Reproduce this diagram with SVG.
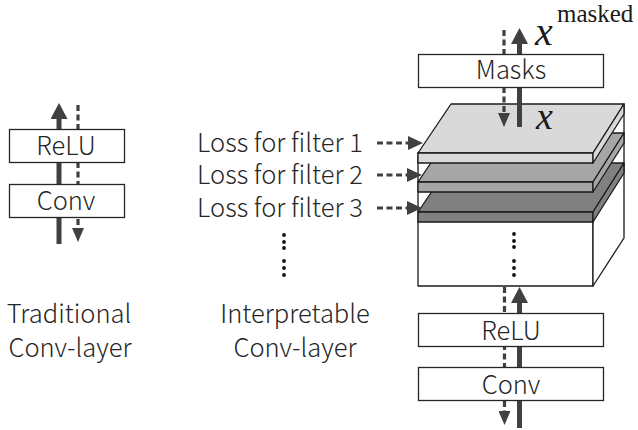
<svg xmlns="http://www.w3.org/2000/svg" width="638" height="430" viewBox="0 0 638 430">
<defs>
<style>
.lbl{font-family:"Noto Sans CJK SC","Liberation Sans",sans-serif;font-weight:300;fill:#262626;font-size:25.5px}
.box{fill:#fff;stroke:#262626;stroke-width:1.3}
.solid{stroke:#404040;stroke-width:5;fill:none}
.dash{stroke:#404040;stroke-width:3.2;fill:none;stroke-dasharray:6 3.5}
.edge{stroke:#1a1a1a;stroke-width:1.3;stroke-linejoin:round}
.math{font-family:"Liberation Serif",serif;fill:#1a1a1a}
.dot{fill:#111}
</style>
<marker id="ah" viewBox="0 0 16 17" refX="6" refY="8.5" markerWidth="16" markerHeight="17" markerUnits="userSpaceOnUse" orient="auto"><path d="M0,0 L16,8.5 L0,17 z" fill="#404040"/></marker>
<marker id="ahd" viewBox="0 0 14 12" refX="4" refY="6" markerWidth="14" markerHeight="12" markerUnits="userSpaceOnUse" orient="auto"><path d="M0,0 L14,6 L0,12 z" fill="#404040"/></marker>
<marker id="ahl" viewBox="0 0 15 14" refX="5" refY="7" markerWidth="15" markerHeight="14" markerUnits="userSpaceOnUse" orient="auto"><path d="M0,0 L15,7 L0,14 z" fill="#404040"/></marker>
</defs>

<g id="cube">
<polygon class="edge" fill="#fff" points="418,153 593,153 593,286 418,286"/>
<polygon class="edge" fill="#fff" points="593,153 624,104 624,238 593,286"/>
<g id="slab3">
<polygon class="edge" fill="#808080" points="418,212 451,163 624,163 593,212"/>
<polygon class="edge" fill="#808080" points="418,212 593,212 593,222 418,222"/>
<polygon class="edge" fill="#808080" points="593,212 624,163 624,173 593,222"/>
</g>
<g id="slab2">
<polygon class="edge" fill="#a6a6a6" points="418,182 451,133 624,133 593,182"/>
<polygon class="edge" fill="#a6a6a6" points="418,182 593,182 593,192 418,192"/>
<polygon class="edge" fill="#a6a6a6" points="593,182 624,133 624,143 593,192"/>
</g>
<g id="slab1">
<polygon class="edge" fill="#d9d9d9" points="418,153 451,104 624,104 593,153"/>
<polygon class="edge" fill="#d9d9d9" points="418,153 593,153 593,163 418,163"/>
<polygon class="edge" fill="#d9d9d9" points="593,153 624,104 624,114 593,163"/>
</g>
<g id="cube-dots">
<circle class="dot" cx="514" cy="234" r="1.9"/><circle class="dot" cx="514" cy="241" r="1.9"/><circle class="dot" cx="514" cy="247" r="1.9"/>
<circle class="dot" cx="514" cy="261" r="1.9"/><circle class="dot" cx="514" cy="268" r="1.9"/><circle class="dot" cx="514" cy="275" r="1.9"/>
</g>
</g>

<g id="connectors">
<path class="solid" d="M59,244 L59,113" marker-end="url(#ah)"/>
<path class="dash" d="M78,105 L78,232" marker-end="url(#ahd)"/>
<path class="solid" d="M519.5,127 L519.5,38" marker-end="url(#ah)"/>
<path class="dash" d="M504,30 L504,117" marker-end="url(#ahd)"/>
<path class="solid" d="M519.5,428 L519.5,297" marker-end="url(#ah)"/>
<path class="dash" d="M504.5,287 L504.5,415" marker-end="url(#ahd)"/>
<path class="dash" d="M377,143 L413,143" marker-end="url(#ahl)"/>
<path class="dash" d="M377,175 L412,175" marker-end="url(#ahl)"/>
<path class="dash" d="M377,208 L412,208" marker-end="url(#ahl)"/>
</g>

<g id="trad-relu"><rect class="box" x="9.5" y="129.5" width="115" height="33"/><text class="lbl" x="66" y="155" text-anchor="middle">ReLU</text></g>
<g id="trad-conv"><rect class="box" x="9.5" y="184.5" width="115" height="33"/><text class="lbl" x="66" y="210" text-anchor="middle">Conv</text></g>

<g id="masks"><rect class="box" x="418.5" y="54.5" width="185" height="33"/><text class="lbl" x="511" y="79" text-anchor="middle">Masks</text></g>
<g id="int-relu"><rect class="box" x="418.5" y="313.5" width="185" height="33"/><text class="lbl" x="511" y="340" text-anchor="middle">ReLU</text></g>
<g id="int-conv"><rect class="box" x="418.5" y="367.5" width="185" height="33"/><text class="lbl" x="511" y="394" text-anchor="middle">Conv</text></g>

<g id="math">
<text class="math" x="535" y="45" font-size="40" font-style="italic">x</text>
<text class="math" x="557" y="22" font-size="25">masked</text>
<text class="math" x="536" y="129" font-size="38" font-style="italic">x</text>
</g>

<g id="losses">
<text class="lbl" x="197" y="152">Loss for filter 1</text>
<text class="lbl" x="197" y="184">Loss for filter 2</text>
<text class="lbl" x="197" y="217">Loss for filter 3</text>
<g id="mid-dots">
<circle class="dot" cx="284" cy="235" r="1.9"/><circle class="dot" cx="284" cy="242" r="1.9"/><circle class="dot" cx="284" cy="248" r="1.9"/>
<circle class="dot" cx="284" cy="261" r="1.9"/><circle class="dot" cx="284" cy="268" r="1.9"/><circle class="dot" cx="284" cy="275" r="1.9"/>
</g>
</g>

<g id="captions">
<text class="lbl" text-anchor="middle"><tspan x="69" y="323">Traditional</tspan><tspan x="70" y="357">Conv-layer</tspan></text>
<text class="lbl" text-anchor="middle"><tspan x="295" y="323">Interpretable</tspan><tspan x="295" y="357">Conv-layer</tspan></text>
</g>
</svg>
